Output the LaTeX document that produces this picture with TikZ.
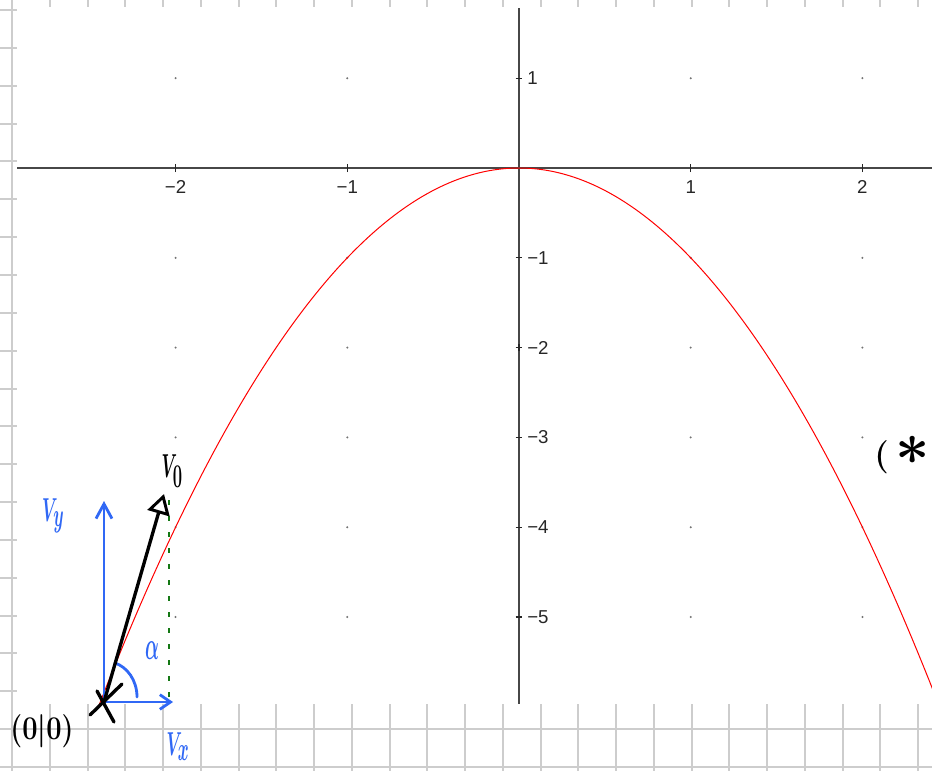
\documentclass[tikz,border=0pt]{standalone}
\usepackage[no-math]{fontspec}
\usetikzlibrary{arrows.meta}
\newfontfamily\tickfont{Liberation Sans}
\definecolor{hblue}{RGB}{48,104,245}
\definecolor{hgreen}{RGB}{20,120,20}
\definecolor{papergrid}{RGB}{205,205,205}
\begin{document}
\begin{tikzpicture}[x=0.75pt,y=-0.75pt,
  gridline/.style={draw=papergrid, line width=1.5pt},
  axis/.style={draw=black!72, line width=1pt},
  tickmark/.style={draw=black!85, line width=0.8pt},
  ticklabel/.style={font=\tickfont\fontsize{14}{14}\selectfont, text=black!85, inner sep=0pt},
  latticedot/.style={fill=black!55},
  curve/.style={draw=red, line width=0.75pt},
  hand/.style={line width=2.5pt, line cap=round, line join=round},
  handblue/.style={hand, draw=hblue, line width=2.1pt},
  handtext/.style={inner sep=0pt, font=\fontsize{40}{40}\selectfont\boldmath},
  helper/.style={draw=hgreen, line width=1.7pt, dash pattern=on 4pt off 8pt}
]
\useasboundingbox (0,0) rectangle (932,771);
\clip (0,0) rectangle (932,771);
% paper grid
\foreach \k in {0,...,24} \draw[gridline] ({12+37.75*\k},0) -- ({12+37.75*\k},771);
\foreach \k in {0,...,20} \draw[gridline] (0,{10+37.85*\k}) -- (932,{10+37.85*\k});
% plot window
\fill[white] (17,7) rectangle (932,704);
% axes
\coordinate (xl) at (17,168);
\coordinate (xr) at (932,168);
\coordinate (yt) at (519,8);
\coordinate (yb) at (519,704);
\draw[axis] (xl) -- (xr);
\draw[axis] (yt) -- (yb);
\begin{scope}
\clip (17,7) rectangle (932,704);
\begin{scope}[shift={(519,168)}, x=128.775pt, y=67.35pt]
  \foreach \i in {-2,-1,1,2}
    \foreach \j in {1,-1,-2,-3,-4,-5}
      \fill[latticedot] (\i,\j) circle (0.85pt);
  \foreach \i/\t in {-2/−2,-1/−1,1/1,2/2} {
    \draw[tickmark] ([yshift=-3pt]\i,0) -- ([yshift=3pt]\i,0);
    \node[ticklabel] (xt\i) at ([yshift=-14.5pt]\i,0) {\t};
  }
  \foreach \j/\t in {1/1,-1/−1,-2/−2,-3/−3,-4/−4,-5/−5} {
    \draw[tickmark] ([xshift=-2.6pt]0,\j) -- ([xshift=2.6pt]0,\j);
    \node[ticklabel, anchor=west] (yt\j) at ([xshift=6pt]0,\j) {\t};
  }
  \draw[tickmark] ([yshift=-2.6pt]0,-2) -- ([yshift=2.6pt]0,-2);
  \draw[curve] plot[domain=-2.47:2.42, samples=150, smooth] (\x,{-\x*\x});
\end{scope}
\end{scope}
% hand-drawn overlay
\coordinate (O) at (104,702);
\coordinate (V0) at (164,494);
\coordinate (Vy) at (104,501);
\coordinate (Vx) at (173,702);
\coordinate (g1) at (169,500);
\coordinate (g2) at (169,703);
\coordinate (a1) at (115,663);
\coordinate (a2) at (137,697);
\draw[helper] (g1) -- (g2);
\draw[handblue, -{Straight Barb[length=11pt, width=12pt, line width=2.1pt]}] (O) -- (Vy);
\draw[handblue, -{Straight Barb[length=8pt, width=11pt, line width=2.1pt]}] (O) -- (Vx);
\draw[handblue] (a1) .. controls (127,667) and (137,680) .. (a2);
\draw[hand, -{Triangle[open, length=15pt, width=17pt, line width=2.2pt]}] (O) -- (V0);
\draw[hand] (90,715) -- (122,684);
\draw[hand] (97,691) -- (114,722);
% handwritten labels
\node[handtext] (lv0) at (172,471) {\scalebox{0.5}[1]{$V_0$}};
\node[handtext, text=hblue] (lvy) at (53,516) {\scalebox{0.5}[1]{$V_y$}};
\node[handtext, text=hblue] (lvx) at (178,747) {\scalebox{0.5}[1]{$V_x$}};
\node[handtext, text=hblue] (lal) at (152,651) {\scalebox{0.55}[1.2]{$\alpha$}};
\node[inner sep=0pt, font=\fontsize{31}{31}\selectfont\boldmath] (lo) at (42,731) {\scalebox{0.82}[1]{$(0|0)$}};
\node[inner sep=0pt, anchor=west, font=\fontsize{30}{30}\selectfont\boldmath] (lst) at (874,455) {$(\,\raisebox{0.1ex}{\scalebox{1.8}{$\ast$}}$};
\end{tikzpicture}
\end{document}
